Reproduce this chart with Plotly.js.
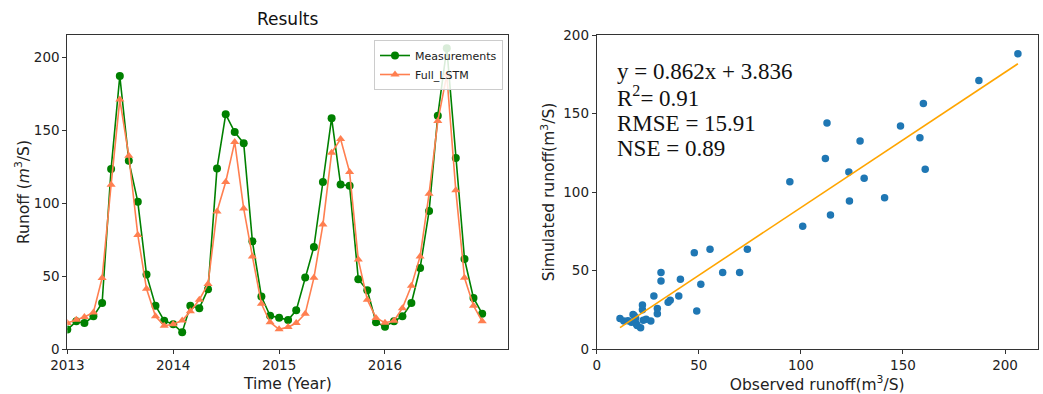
<!DOCTYPE html>
<html>
<head>
<meta charset="utf-8">
<script src="https://cdn.plot.ly/plotly-3.0.1.min.js"></script>
<style>html,body{margin:0;padding:0;background:#fff;}#chart{width:1043px;height:394px;}</style>
</head>
<body>
<div id="chart"></div>
<script>
// Monthly time axis (Jan 2013 - Dec 2016)
const months = [
  '2013-01-01','2013-02-01','2013-03-01','2013-04-01','2013-05-01','2013-06-01','2013-07-01','2013-08-01','2013-09-01','2013-10-01','2013-11-01','2013-12-01',
  '2014-01-01','2014-02-01','2014-03-01','2014-04-01','2014-05-01','2014-06-01','2014-07-01','2014-08-01','2014-09-01','2014-10-01','2014-11-01','2014-12-01',
  '2015-01-01','2015-02-01','2015-03-01','2015-04-01','2015-05-01','2015-06-01','2015-07-01','2015-08-01','2015-09-01','2015-10-01','2015-11-01','2015-12-01',
  '2016-01-01','2016-02-01','2016-03-01','2016-04-01','2016-05-01','2016-06-01','2016-07-01','2016-08-01','2016-09-01','2016-10-01','2016-11-01','2016-12-01'
];
// Measured runoff (m3/s)
const measurements = [
  13.3, 19.0, 17.8, 22.4, 31.5, 123.5, 187.2, 129.0, 100.9, 51.0, 29.7, 19.4,
  17.0, 11.4, 29.7, 28.0, 41.0, 123.8, 160.9, 148.8, 141.0, 73.8, 36.0, 22.8,
  21.5, 19.8, 26.5, 49.0, 70.0, 114.5, 158.3, 112.8, 112.0, 47.8, 40.2, 18.3,
  15.3, 19.0, 22.4, 31.5, 55.5, 94.6, 160.0, 206.3, 131.0, 61.7, 35.0, 24.2
];
// Full_LSTM simulated runoff (m3/s)
const fullLSTM = [
  17.8, 20.0, 22.0, 25.0, 48.7, 112.7, 171.0, 132.5, 78.2, 41.3, 22.4, 16.0,
  17.0, 19.5, 25.8, 33.8, 44.5, 94.3, 114.5, 142.0, 96.3, 63.5, 31.0, 18.3,
  13.5, 15.0, 17.8, 24.2, 48.8, 85.3, 134.5, 144.0, 121.3, 61.3, 33.8, 21.3,
  18.0, 19.4, 28.0, 43.3, 63.5, 106.5, 156.3, 188.0, 108.8, 48.8, 29.7, 19.0
];
// Linear fit reported on the scatter plot
const fitSlope = 0.862;
const fitIntercept = 3.836;
const statLines = ['y = 0.862x + 3.836', 'R<sup>2</sup>= 0.91', 'RMSE = 15.91', 'NSE = 0.89'];
// Tick labels
const yearTicks = ['2013-01-01', '2014-01-01', '2015-01-01', '2016-01-01'];
const yearLabels = ['2013', '2014', '2015', '2016'];
const leftYTicks = [0, 50, 100, 150, 200];
const rightTicks = [0, 50, 100, 150, 200];

const xMin = Math.min(...measurements), xMax = Math.max(...measurements);
const fitX = [xMin, xMax];
const fitY = fitX.map(v => fitSlope * v + fitIntercept);

const traces = [
  {x: months, y: measurements, name: 'Measurements', type: 'scatter', mode: 'lines+markers',
   line: {color: '#008000', width: 1.6}, marker: {symbol: 'circle', size: 8, color: '#008000'},
   xaxis: 'x', yaxis: 'y'},
  {x: months, y: fullLSTM, name: 'Full_LSTM', type: 'scatter', mode: 'lines+markers',
   line: {color: '#FF7F50', width: 1.6}, marker: {symbol: 'triangle-up', size: 8, color: '#FF7F50'},
   xaxis: 'x', yaxis: 'y'},
  {x: measurements, y: fullLSTM, type: 'scatter', mode: 'markers', showlegend: false,
   marker: {color: '#1f77b4', size: 7.5}, xaxis: 'x2', yaxis: 'y2'},
  {x: fitX, y: fitY, type: 'scatter', mode: 'lines', showlegend: false,
   line: {color: '#FFA500', width: 1.6}, xaxis: 'x2', yaxis: 'y2'}
];

const axisCommon = {showgrid: false, zeroline: false, showline: true, mirror: true,
  linecolor: '#333', linewidth: 1, ticks: 'outside', ticklen: 4, tickcolor: '#333',
  tickfont: {size: 13.5, color: '#222'}};
const yDomain = [1 - 349/394, 1 - 35/394];

const annotations = [
  {text: 'Results', xref: 'paper', yref: 'paper', x: 287.5/1043, y: 1 - 19/394,
   xanchor: 'center', yanchor: 'middle', showarrow: false, font: {size: 17, color: '#111'}}
];
const statY = [71.7, 96.7, 123.3, 148.3];
statLines.forEach((t, i) => annotations.push({
  text: t, xref: 'paper', yref: 'paper', x: 615/1043, y: 1 - statY[i]/394,
  xanchor: 'left', yanchor: 'middle', showarrow: false,
  font: {family: 'Liberation Serif, Times New Roman, serif', size: 23, color: '#111'}
}));

const layout = {
  width: 1043, height: 394,
  margin: {l: 0, r: 0, t: 0, b: 0},
  paper_bgcolor: '#fff', plot_bgcolor: '#fff',
  font: {family: 'DejaVu Sans, sans-serif', color: '#222'},
  showlegend: true,
  legend: {x: 503/1043, y: 1 - 40/394, xanchor: 'right', yanchor: 'top',
    bgcolor: 'rgba(255,255,255,0.85)', bordercolor: '#ccc', borderwidth: 1,
    font: {size: 11, color: '#222'}, tracegroupgap: 0},
  xaxis: Object.assign({}, axisCommon, {domain: [67.3/1043, 508.3/1043], type: 'date',
    range: ['2013-01-01', '2017-03-01'], tickmode: 'array', tickvals: yearTicks, ticktext: yearLabels,
    anchor: 'y', title: {text: 'Time (Year)', font: {size: 15.5, color: '#222'}, standoff: 5}}),
  yaxis: Object.assign({}, axisCommon, {domain: yDomain, range: [0, 215.3], tickmode: 'array',
    tickvals: leftYTicks, anchor: 'x',
    title: {text: 'Runoff (<i>m</i><sup>3</sup>/S)', font: {size: 15.5, color: '#222'}, standoff: 0}}),
  xaxis2: Object.assign({}, axisCommon, {domain: [596.7/1043, 1037.7/1043], range: [0, 216],
    tickmode: 'array', tickvals: rightTicks, anchor: 'y2',
    title: {text: 'Observed runoff(m<sup>3</sup>/S)', font: {size: 15.5, color: '#222'}, standoff: 5}}),
  yaxis2: Object.assign({}, axisCommon, {domain: yDomain, range: [0, 200], tickmode: 'array',
    tickvals: rightTicks, anchor: 'x2',
    title: {text: 'Simulated runoff(m<sup>3</sup>/S)', font: {size: 15.5, color: '#222'}, standoff: 4}}),
  annotations: annotations
};

Plotly.newPlot('chart', traces, layout, {displayModeBar: false, staticPlot: true});
</script>
</body>
</html>
